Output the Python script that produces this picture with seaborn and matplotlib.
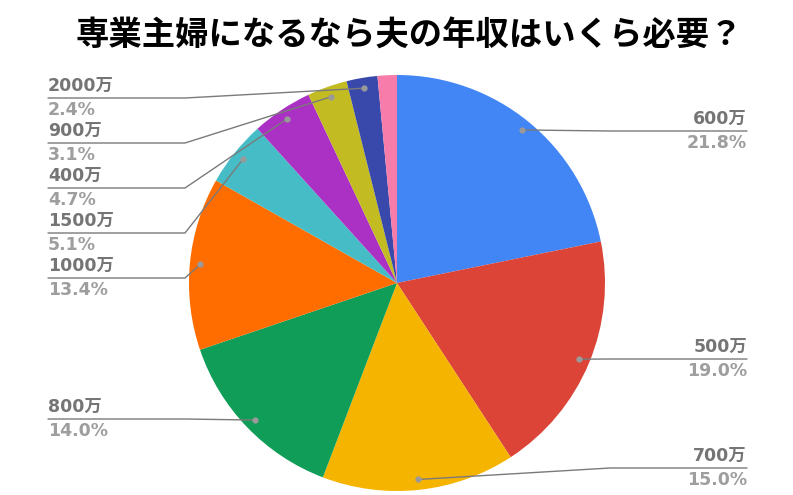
import numpy as np
import seaborn as sns
import matplotlib
matplotlib.use('Agg')
import matplotlib.pyplot as plt

sns.set_theme(style='white')
plt.rcParams['font.family'] = ['DejaVu Sans', 'Noto Sans CJK JP']

# data (clockwise from the top)
labels = ['600万', '500万', '700万', '800万', '1000万', '1500万', '400万', '900万', '2000万', '']
values = [21.8, 19.0, 15.0, 14.0, 13.4, 5.1, 4.7, 3.1, 2.4, 1.5]
colors = ['#4285F4', '#DB4437', '#F4B400', '#0F9D58', '#FF6D00',
          '#46BDC6', '#AB30C4', '#C2BC22', '#3949AB', '#F77CA9']
title = '専業主婦になるなら夫の年収はいくら必要？'

# label layout (pixel rows of the leader lines)
label_side = ['R', 'R', 'R', 'L', 'L', 'L', 'L', 'L', 'L', None]
label_y = [131, 359, 468, 419, 278, 233, 188, 143, 98, None]

W, H = 793, 495
cx, cy, R = 397, 283, 208

fig = plt.figure(figsize=(W / 100, H / 100), dpi=100)
ax = fig.add_axes([0, 0, 1, 1])
ax.set_xlim(0, W)
ax.set_ylim(H, 0)
ax.axis('off')

wedges, _ = ax.pie(values, colors=colors, startangle=-90, counterclock=True,
                   center=(cx, cy), radius=R, wedgeprops=dict(linewidth=0),
                   frame=True)
ax.set_xlim(0, W)
ax.set_ylim(H, 0)
ax.axis('off')

total = sum(values)
for w, lab, v, side, ly in zip(wedges, labels, values, label_side, label_y):
    if not lab:
        continue
    ang = np.deg2rad((w.theta1 + w.theta2) / 2)
    dx = cx + 0.95 * R * np.cos(ang)
    dy = cy + 0.95 * R * np.sin(ang)
    pct = f'{v / total * 100:.1f}%'
    if side == 'R':
        ex = max(dx, 610)
        xs = [dx, ex, 747]
        tx, ha = 747, 'right'
    else:
        ex = min(dx, 185)
        xs = [dx, ex, 48]
        tx, ha = 48, 'left'
    ax.plot(xs, [dy, ly, ly], color='#7a7a7a', lw=1, zorder=3)
    ax.plot(dx, dy, 'o', ms=3.5, color='#9a9a9a', zorder=4)
    ax.text(tx, ly - 3, lab, ha=ha, va='bottom', fontsize=12.5,
            fontweight='bold', color='#757575')
    ax.text(tx, ly + 3, pct, ha=ha, va='top', fontsize=12.5,
            fontweight='bold', color='#9E9E9E')

ax.text(409, 36, title, ha='center', va='center', fontsize=24,
        fontweight='bold', color='black', family=['Noto Sans CJK JP'])

fig.savefig('out.png', dpi=100, facecolor='white')
